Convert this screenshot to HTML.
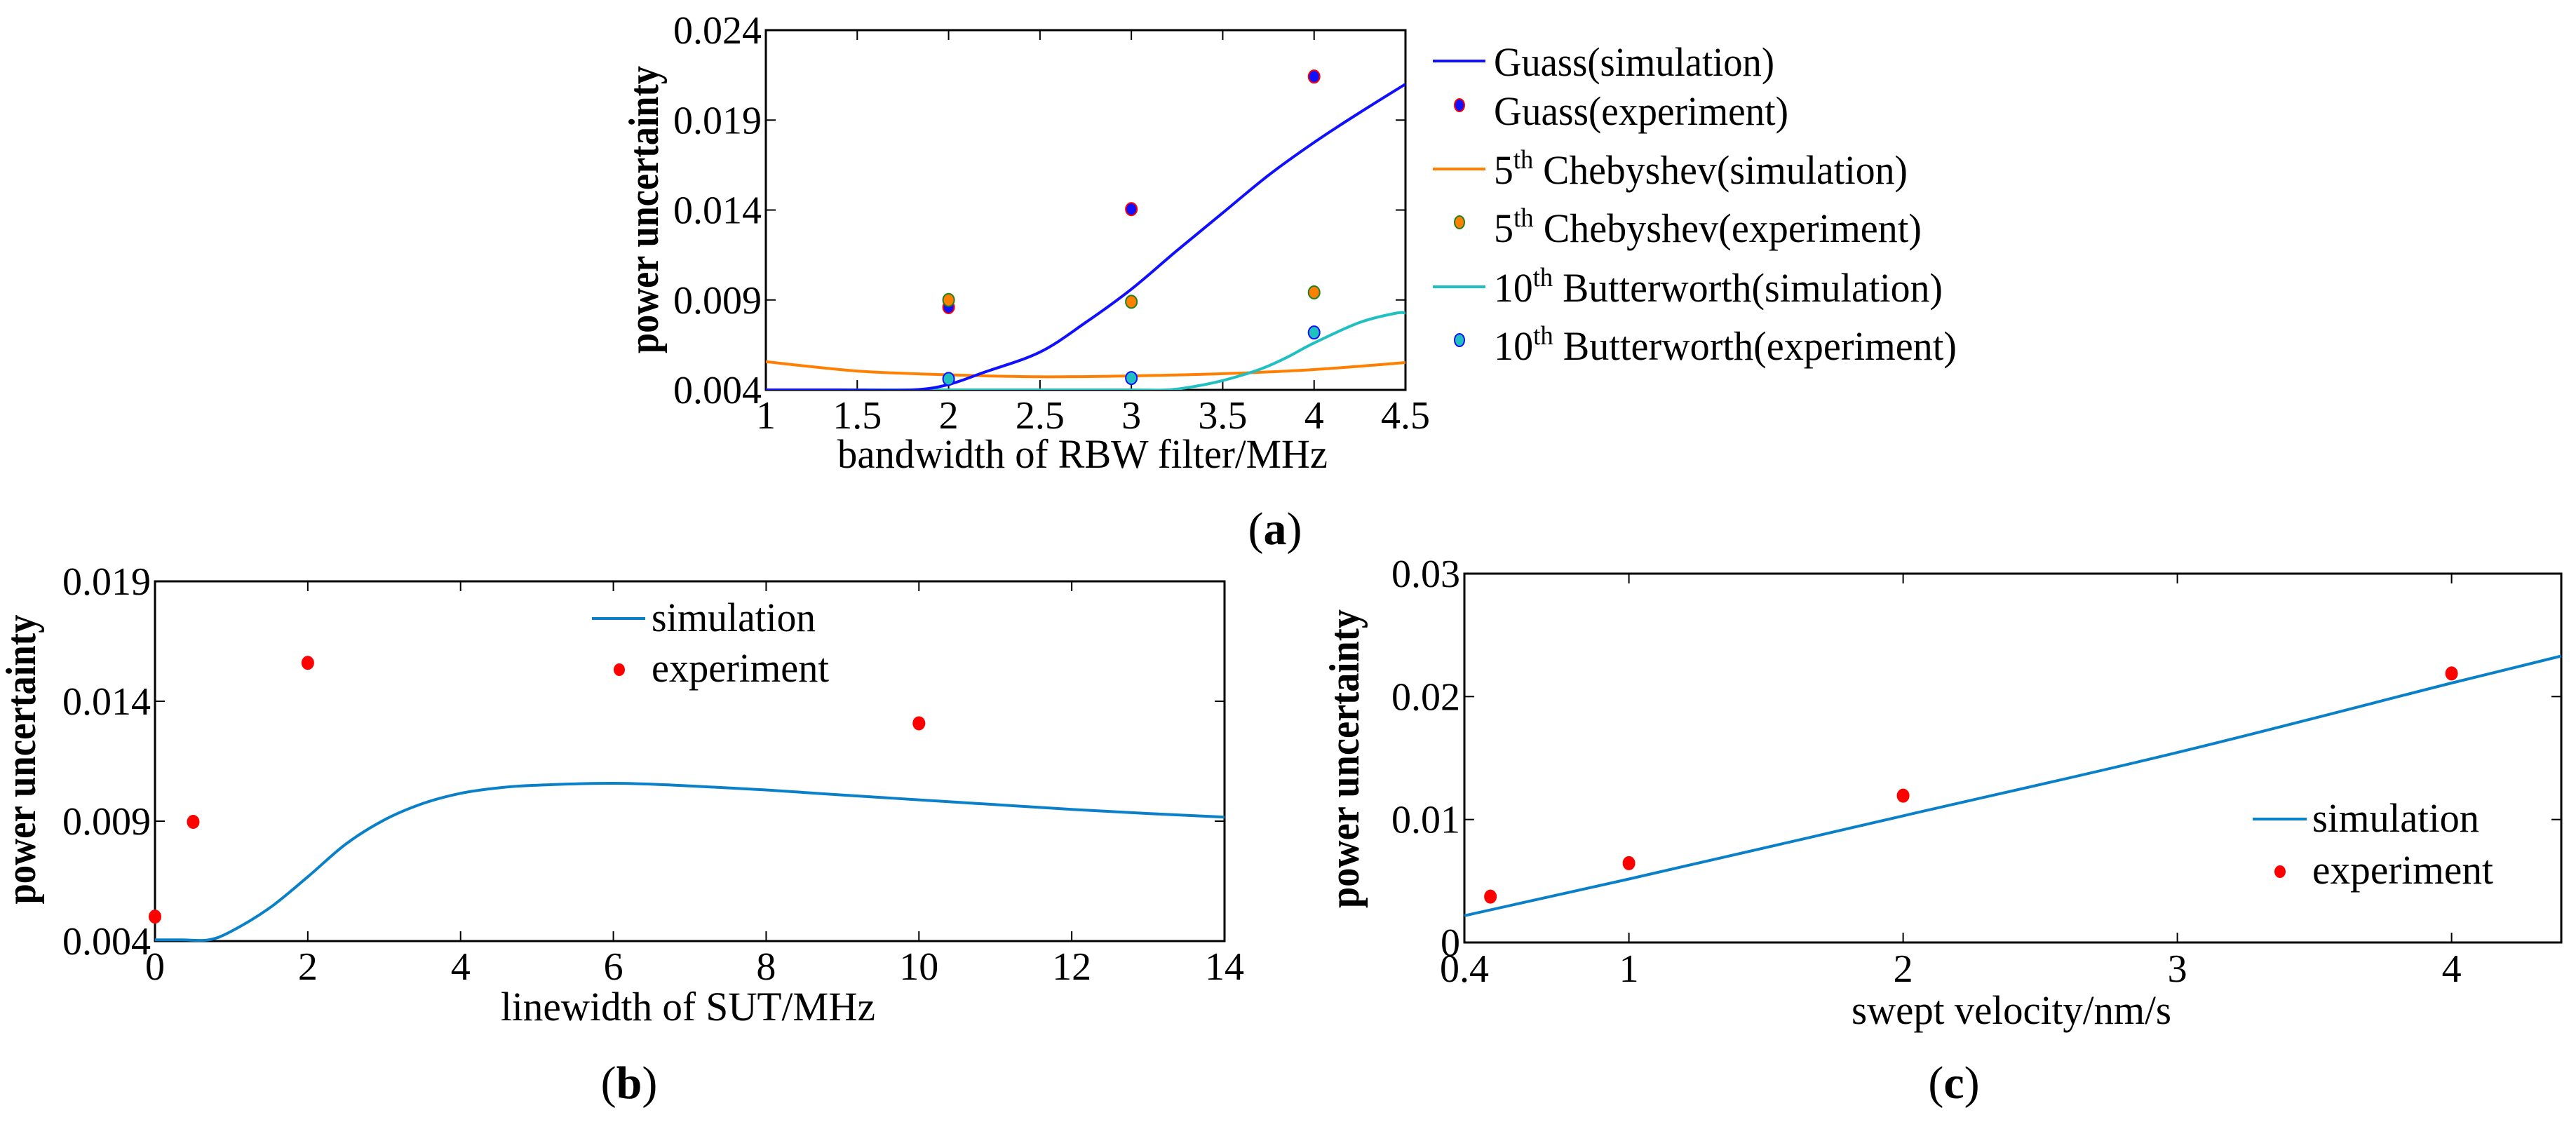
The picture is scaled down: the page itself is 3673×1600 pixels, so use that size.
<!DOCTYPE html>
<html><head><meta charset="utf-8"><style>
html,body{margin:0;padding:0;background:#fff;}
svg{display:block;}
text{font-family:"Liberation Serif",serif;fill:#000;}
</style></head><body>
<svg id="fig" xmlns="http://www.w3.org/2000/svg" width="3673" height="1600" viewBox="0 0 3673 1600" font-family="Liberation Serif, serif">
<rect width="3673" height="1600" fill="#fff"/>
<g id="chartA"></g>
<g id="chartB"></g>
<g id="chartC"></g>
<text x="1818" y="776" font-size="66" text-anchor="middle">(<tspan font-weight="bold">a</tspan>)</text>
<text x="897" y="1566" font-size="66" text-anchor="middle">(<tspan font-weight="bold">b</tspan>)</text>
<text x="2786" y="1566" font-size="66" text-anchor="middle">(<tspan font-weight="bold">c</tspan>)</text>
</svg>
<script>
// ---- Chart A data ----
const aXTicks = [1, 1.5, 2, 2.5, 3, 3.5, 4, 4.5];
const aXTickLabels = ["1", "1.5", "2", "2.5", "3", "3.5", "4", "4.5"];
const aYTicks = [0.004, 0.009, 0.014, 0.019, 0.024];
const aYTickLabels = ["0.004", "0.009", "0.014", "0.019", "0.024"];
const aGaussSimX = [1.0, 1.4, 1.8, 2.0, 2.2, 2.5, 2.75, 3.0, 3.25, 3.5, 3.75, 4.0, 4.25, 4.5];
const aGaussSimY = [0.004, 0.004, 0.004, 0.0043, 0.0050, 0.0061, 0.00775, 0.0096, 0.01175, 0.01384, 0.01593, 0.01776, 0.01942, 0.0210];
const aGaussExpX = [2, 3, 4];
const aGaussExpY = [0.0086, 0.01405, 0.02142];
const aChebSimX = [1.0, 1.5, 2.0, 2.5, 3.0, 3.5, 4.0, 4.5];
const aChebSimY = [0.00557, 0.00505, 0.00484, 0.00473, 0.00478, 0.0049, 0.00513, 0.00552];
const aChebExpX = [2, 3, 4];
const aChebExpY = [0.0090, 0.0089, 0.00942];
const aButSimX = [1.0, 1.5, 2.0, 2.5, 3.0, 3.2, 3.35, 3.5, 3.7, 3.85, 4.0, 4.25, 4.45, 4.5];
const aButSimY = [0.004, 0.004, 0.004, 0.004, 0.004, 0.004, 0.0042, 0.00452, 0.00513, 0.0058, 0.00661, 0.00775, 0.00827, 0.00827];
const aButExpX = [2, 3, 4];
const aButExpY = [0.00461, 0.00466, 0.00719];
// ---- Chart B data ----
const bXTicks = [0, 2, 4, 6, 8, 10, 12, 14];
const bXTickLabels = ["0", "2", "4", "6", "8", "10", "12", "14"];
const bYTicks = [0.004, 0.009, 0.014, 0.019];
const bYTickLabels = ["0.004", "0.009", "0.014", "0.019"];
const bSimX = [0, 0.35, 0.7, 1, 1.5, 2, 2.5, 3, 3.5, 4, 4.5, 5, 6, 7, 8, 9, 10, 11, 12, 13, 14];
const bSimY = [0.00405, 0.00405, 0.00405, 0.00441, 0.00538, 0.00668, 0.00805, 0.00905, 0.00973, 0.01016, 0.01039, 0.0105, 0.01058, 0.01047, 0.0103, 0.01009, 0.00989, 0.00969, 0.00949, 0.00932, 0.00917];
const bExpX = [0, 0.5, 2, 10];
const bExpY = [0.00502, 0.00897, 0.0156, 0.01308];
// ---- Chart C data ----
const cXTicks = [0.4, 1, 2, 3, 4];
const cXTickLabels = ["0.4", "1", "2", "3", "4"];
const cYTicks = [0, 0.01, 0.02, 0.03];
const cYTickLabels = ["0", "0.01", "0.02", "0.03"];
const cSimX = [0.4, 1, 2, 3, 4, 4.4];
const cSimY = [0.00218, 0.00516, 0.0103, 0.01545, 0.0211, 0.0233];
const cExpX = [0.495, 1, 2, 4];
const cExpY = [0.00373, 0.00645, 0.01194, 0.02188];

const NS = "http://www.w3.org/2000/svg";
function mk(parent, tag, attrs){
  const e = document.createElementNS(NS, tag);
  for (const k in attrs) e.setAttribute(k, attrs[k]);
  parent.appendChild(e); return e;
}
function axes(g, box, xd, yd, xt, xtl, yt, ytl, xTitle, xTitleBox, yTitleC, tickBase){
  const sx = v => box.l + (v - xd[0]) / (xd[1] - xd[0]) * (box.r - box.l);
  const sy = v => box.b - (v - yd[0]) / (yd[1] - yd[0]) * (box.b - box.t);
  const frame = mk(g, 'rect', {x: box.l, y: box.t, width: box.r - box.l, height: box.b - box.t, fill: 'none', stroke: '#000', 'stroke-width': 3});
  
  
  xt.forEach((v, i) => {
    const x = sx(v);
    const t1 = mk(g, 'line', {x1: x, x2: x, y1: box.b, y2: box.b - 14, stroke: '#000', 'stroke-width': 2});
    
    
    const t2 = mk(g, 'line', {x1: x, x2: x, y1: box.t, y2: box.t + 14, stroke: '#000', 'stroke-width': 2});
    
    
    const tx = mk(g, 'text', {x: x, y: tickBase, 'font-size': 56, 'text-anchor': 'middle'});
    tx.textContent = xtl[i];
    
    
  });
  yt.forEach((v, i) => {
    const y = sy(v);
    const t1 = mk(g, 'line', {x1: box.l, x2: box.l + 14, y1: y, y2: y, stroke: '#000', 'stroke-width': 2});
    
    
    const t2 = mk(g, 'line', {x1: box.r, x2: box.r - 14, y1: y, y2: y, stroke: '#000', 'stroke-width': 2});
    
    
    const tx = mk(g, 'text', {x: box.l - 6, y: y + 19, 'font-size': 56, 'text-anchor': 'end'});
    tx.textContent = ytl[i];
    
    
  });
  const xtEl = mk(g, 'text', {x: xTitleBox[0], y: xTitleBox[2], 'font-size': 58, textLength: xTitleBox[1] - xTitleBox[0], lengthAdjust: 'spacingAndGlyphs'});
  xtEl.textContent = xTitle;
  
  
  const ytEl = mk(g, 'text', {x: 0, y: 0, 'font-size': 60, 'font-weight': 'bold', 'text-anchor': 'middle', textLength: yTitleC[2], lengthAdjust: 'spacingAndGlyphs', transform: `translate(${yTitleC[0]},${yTitleC[1]}) rotate(-90)`});
  ytEl.textContent = 'power uncertainty';
  
  
  return {sx, sy};
}
function line(g, s, xs, ys, color, name){
  const P = xs.map((x, i) => [s.sx(x), s.sy(ys[i])]);
  let d = 'M' + P[0][0].toFixed(1) + ',' + P[0][1].toFixed(1);
  for (let i = 0; i < P.length - 1; i++) {
    const p0 = P[Math.max(0, i - 1)], p1 = P[i], p2 = P[i + 1], p3 = P[Math.min(P.length - 1, i + 2)];
    const c1 = [p1[0] + (p2[0] - p0[0]) / 6, p1[1] + (p2[1] - p0[1]) / 6];
    const c2 = [p2[0] - (p3[0] - p1[0]) / 6, p2[1] - (p3[1] - p1[1]) / 6];
    d += ' C' + c1[0].toFixed(1) + ',' + c1[1].toFixed(1) + ' ' + c2[0].toFixed(1) + ',' + c2[1].toFixed(1) + ' ' + p2[0].toFixed(1) + ',' + p2[1].toFixed(1);
  }
  const p = mk(g, 'path', {d: d, fill: 'none', stroke: color, 'stroke-width': 4, 'stroke-linejoin': 'round'});
  
  
}
function dots(g, s, xs, ys, fill, edge, name){
  xs.forEach((x, i) => {
    const c = mk(g, 'ellipse', {cx: s.sx(x), cy: s.sy(ys[i]), rx: 8, ry: 9, fill: fill, stroke: edge, 'stroke-width': 2});
    
    
  });
}

// Chart A
const gA = document.getElementById('chartA');
const sA = axes(gA, {l: 1092, r: 2004, t: 43, b: 556}, [1, 4.5], [0.004, 0.024], aXTicks, aXTickLabels, aYTicks, aYTickLabels,
  'bandwidth of RBW filter/MHz', [1194, 1893, 667], [938, 299, 410], 611);
const clipA = mk(gA, 'clipPath', {id: 'clipA'});
mk(clipA, 'rect', {x: 1092, y: 43, width: 912, height: 513});
const gAd = mk(gA, 'g', {'clip-path': 'url(#clipA)'});
line(gAd, sA, aChebSimX, aChebSimY, '#ff8000', 'chebyshev-simulation-line');
line(gAd, sA, aButSimX, aButSimY, '#20c0c0', 'butterworth-simulation-line');
line(gAd, sA, aGaussSimX, aGaussSimY, '#1010ff', 'gauss-simulation-line');
dots(gA, sA, aGaussExpX, aGaussExpY, '#1010ff', '#ff0000', 'gauss-experiment-point');
dots(gA, sA, aChebExpX, aChebExpY, '#ff8000', '#208020', 'chebyshev-experiment-point');
dots(gA, sA, aButExpX, aButExpY, '#20c0c0', '#1010ff', 'butterworth-experiment-point');
// Legend A
const legA = [
  ['line', '#1010ff', null, 'Guass(simulation)', null, 400],
  ['dot', '#1010ff', '#ff0000', 'Guass(experiment)', null, 420],
  ['line', '#ff8000', null, 'Chebyshev(simulation)', '5', 590],
  ['dot', '#ff8000', '#208020', 'Chebyshev(experiment)', '5', 610],
  ['line', '#20c0c0', null, 'Butterworth(simulation)', '10', 640],
  ['dot', '#20c0c0', '#1010ff', 'Butterworth(experiment)', '10', 660]
];
const legBase = [108, 178, 262, 345, 430, 513];
const legG = mk(gA, 'g', {});


legA.forEach((e, i) => {
  const yb = legBase[i];
  if (e[0] === 'line') {
    const l = mk(legG, 'line', {x1: 2043, x2: 2118, y1: yb - 21, y2: yb - 21, stroke: e[1], 'stroke-width': 4});
    
    
  } else {
    const c = mk(legG, 'ellipse', {cx: 2081, cy: yb - 28, rx: 7, ry: 9, fill: e[1], stroke: e[2], 'stroke-width': 2});
    
    
  }
  const t = mk(legG, 'text', {x: 2130, y: yb, 'font-size': 58});
  
  
  if (e[4]) {
    const n = mk(t, 'tspan', {}); n.textContent = e[4];
    const sup = mk(t, 'tspan', {dy: -22, 'font-size': 38}); sup.textContent = 'th';
    const rest = mk(t, 'tspan', {dy: 22}); rest.textContent = ' ' + e[3];
  } else {
    t.textContent = e[3];
  }
  t.setAttribute('textLength', e[5]);
  t.setAttribute('lengthAdjust', 'spacingAndGlyphs');
});

// Chart B
const gB = document.getElementById('chartB');
const sB = axes(gB, {l: 221, r: 1746, t: 829, b: 1342}, [0, 14], [0.004, 0.019], bXTicks, bXTickLabels, bYTicks, bYTickLabels,
  'linewidth of SUT/MHz', [714, 1248, 1455], [50, 1083, 413], 1397);
line(gB, sB, bSimX, bSimY, '#0a80c8', 'simulation-line');
dots(gB, sB, bExpX, bExpY, '#ff0000', '#ff0000', 'experiment-point');
const lb1 = mk(gB, 'line', {x1: 844, x2: 920, y1: 882, y2: 882, stroke: '#0a80c8', 'stroke-width': 4});


const lbt1 = mk(gB, 'text', {x: 929, y: 900, 'font-size': 58, textLength: 234, lengthAdjust: 'spacingAndGlyphs'});
lbt1.textContent = 'simulation';


const lbd = mk(gB, 'ellipse', {cx: 883, cy: 955, rx: 8, ry: 9, fill: '#ff0000'});


const lbt2 = mk(gB, 'text', {x: 929, y: 972, 'font-size': 58, textLength: 253, lengthAdjust: 'spacingAndGlyphs'});
lbt2.textContent = 'experiment';



// Chart C
const gC = document.getElementById('chartC');
const sC = axes(gC, {l: 2088, r: 3652, t: 818, b: 1344}, [0.4, 4.4], [0, 0.03], cXTicks, cXTickLabels, cYTicks, cYTickLabels,
  'swept velocity/nm/s', [2640, 3096, 1460], [1937, 1082, 426], 1400);
line(gC, sC, cSimX, cSimY, '#0a80c8', 'simulation-line');
dots(gC, sC, cExpX, cExpY, '#ff0000', '#ff0000', 'experiment-point');
const lc1 = mk(gC, 'line', {x1: 3212, x2: 3289, y1: 1168, y2: 1168, stroke: '#0a80c8', 'stroke-width': 4});


const lct1 = mk(gC, 'text', {x: 3297, y: 1186, 'font-size': 58, textLength: 238, lengthAdjust: 'spacingAndGlyphs'});
lct1.textContent = 'simulation';


const lcd = mk(gC, 'ellipse', {cx: 3251, cy: 1243, rx: 8, ry: 9, fill: '#ff0000'});


const lct2 = mk(gC, 'text', {x: 3297, y: 1260, 'font-size': 58, textLength: 258, lengthAdjust: 'spacingAndGlyphs'});
lct2.textContent = 'experiment';


</script>
</body></html>
